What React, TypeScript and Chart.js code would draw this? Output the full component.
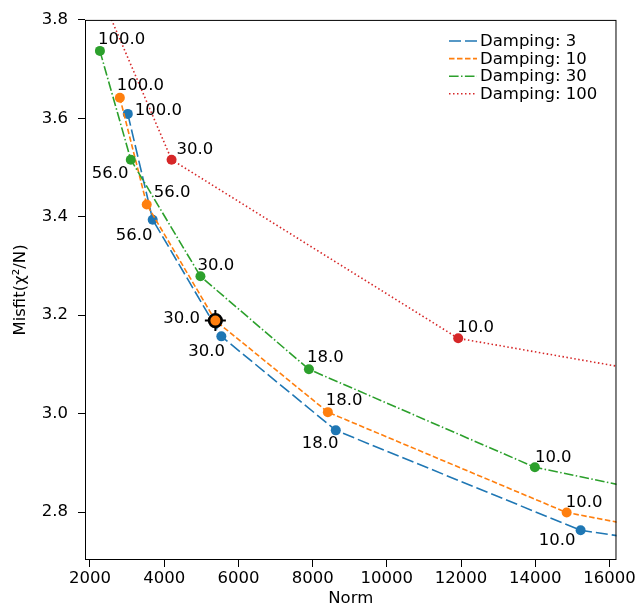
import React, { useEffect, useRef } from "react";
import { Chart, registerables } from "chart.js";

Chart.register(...registerables);

const FONT = "'DejaVu Sans', 'Liberation Sans', sans-serif";
const FS = 16.5;

const seriesNames = ["Damping: 3", "Damping: 10", "Damping: 30", "Damping: 100"];
const seriesColors = ["#1f77b4", "#ff7f0e", "#2ca02c", "#d62728"];

// Damping: 3
const d3Norm = [3019, 3690, 5540, 8624, 15222, 20000];
const d3Misfit = [3.609, 3.394, 3.157, 2.966, 2.763, 2.71];
const d3Labels = ["100.0", "56.0", "30.0", "18.0", "10.0", ""];

// Damping: 10
const d10Norm = [2805, 3529, 5379, 8410, 14846, 20000];
const d10Misfit = [3.642, 3.425, 3.189, 3.003, 2.799, 2.725];
const d10Labels = ["100.0", "56.0", "30.0", "18.0", "10.0", ""];

// Damping: 30
const d30Norm = [2268, 3100, 4977, 7900, 13989, 20000];
const d30Misfit = [3.737, 3.516, 3.279, 3.09, 2.891, 2.797];
const d30Labels = ["100.0", "56.0", "30.0", "18.0", "10.0", ""];

// Damping: 100
const d100Norm = [1730, 4199, 11923, 20000];
const d100Misfit = [3.95, 3.516, 3.153, 3.046];
const d100Labels = ["", "30.0", "10.0", ""];

// selected model (series index, point index)
const selectedSeries = 1;
const selectedPoint = 2;

const xTicks = [2000, 4000, 6000, 8000, 10000, 12000, 14000, 16000];
const yTicks = [2.8, 3.0, 3.2, 3.4, 3.6, 3.8];
const xMin = 1866;
const xMax = 16188;
const yMin = 2.7026;
const yMax = 3.8;

// styling: label offsets in px (text left, baseline) relative to point
const labelOffsets: number[][][] = [
  [[7, 1], [-37, 20], [-33, 20], [-34, 18], [-42, 15], [0, 0]],
  [[-3, -8], [7, -7], [-52, 2], [-2, -7], [-1, -6], [0, 0]],
  [[-2, -7], [-39, 18], [-3, -6], [-2, -7], [0, -5], [0, 0]],
  [[0, 0], [5, -6], [-1, -6], [0, 0]],
];
const dashes = [[12, 4], [5.5, 2.5], [9.6, 2.4, 1.5, 2.4], [1.5, 2.5]];

const norms = [d3Norm, d10Norm, d30Norm, d100Norm];
const misfits = [d3Misfit, d10Misfit, d30Misfit, d100Misfit];
const pointLabels = [d3Labels, d10Labels, d30Labels, d100Labels];

const overlayPlugin = {
  id: "overlay",
  afterDatasetsDraw(chart: any) {
    const { ctx, chartArea: a } = chart;
    ctx.save();
    ctx.beginPath();
    ctx.rect(a.left, a.top, a.right - a.left, a.bottom - a.top);
    ctx.clip();
    ctx.font = `${FS}px ${FONT}`;
    ctx.fillStyle = "#000";
    ctx.textAlign = "left";
    ctx.textBaseline = "alphabetic";
    pointLabels.forEach((labels, si) => {
      const meta = chart.getDatasetMeta(si);
      labels.forEach((t, i) => {
        if (!t) return;
        const p = meta.data[i];
        const [dx, dy] = labelOffsets[si][i];
        ctx.fillText(t, p.x + dx, p.y + dy);
      });
    });
    // selected model marker
    const sp = chart.getDatasetMeta(selectedSeries).data[selectedPoint];
    ctx.strokeStyle = "#000";
    ctx.lineWidth = 2;
    ctx.setLineDash([]);
    ctx.beginPath();
    ctx.moveTo(sp.x - 10.5, sp.y);
    ctx.lineTo(sp.x + 10.5, sp.y);
    ctx.moveTo(sp.x, sp.y - 10.5);
    ctx.lineTo(sp.x, sp.y + 10.5);
    ctx.stroke();
    ctx.beginPath();
    ctx.arc(sp.x, sp.y, 6.3, 0, Math.PI * 2);
    ctx.fillStyle = seriesColors[selectedSeries];
    ctx.fill();
    ctx.lineWidth = 2.6;
    ctx.stroke();
    ctx.restore();

    // frame
    ctx.save();
    ctx.strokeStyle = "#000";
    ctx.lineWidth = 1;
    ctx.strokeRect(a.left + 0.5, a.top + 0.5, a.right - a.left - 1, a.bottom - a.top - 1);

    // legend
    const lx0 = 449;
    const lx1 = 477;
    const ly0 = 41;
    const step = 17.6;
    seriesNames.forEach((name, i) => {
      const y = ly0 + i * step;
      ctx.strokeStyle = seriesColors[i];
      ctx.lineWidth = 1.6;
      ctx.setLineDash(dashes[i]);
      ctx.beginPath();
      ctx.moveTo(lx0, y);
      ctx.lineTo(lx1, y);
      ctx.stroke();
      ctx.setLineDash([]);
      ctx.fillStyle = "#000";
      ctx.font = `${FS}px ${FONT}`;
      ctx.textAlign = "left";
      ctx.textBaseline = "middle";
      ctx.fillText(name, 480, y + 1);
    });
    ctx.restore();
  },
};

export default function App() {
  const ref = useRef<HTMLCanvasElement | null>(null);
  useEffect(() => {
    if (!ref.current) return;
    const datasets = seriesNames.map((name, si) => ({
      label: name,
      data: norms[si].map((x, i) => ({ x, y: misfits[si][i] })),
      borderColor: seriesColors[si],
      backgroundColor: seriesColors[si],
      borderWidth: 1.6,
      borderDash: dashes[si],
      pointRadius: 5,
      pointBorderWidth: 0,
      pointBackgroundColor: seriesColors[si],
      pointHoverRadius: 5,
      tension: 0,
      order: 3 - si,
      clip: 0,
    }));
    const chart = new Chart(ref.current, {
      type: "line",
      data: { datasets },
      options: {
        responsive: false,
        animation: false,
        events: [],
        layout: { padding: { left: 0, top: 19, right: 19, bottom: 0 } },
        plugins: { legend: { display: false }, tooltip: { enabled: false } },
        scales: {
          x: {
            type: "linear",
            min: xMin,
            max: xMax,
            afterBuildTicks: (s: any) => {
              s.ticks = xTicks.map((v) => ({ value: v }));
            },
            afterFit: (s: any) => {
              s.height = 47;
            },
            ticks: {
              font: { family: FONT, size: FS },
              color: "#000",
              padding: 2,
              maxRotation: 0,
              autoSkip: false,
              callback: (v: any) => String(v),
            },
            grid: { drawOnChartArea: false, drawTicks: true, tickLength: 7, color: "#000", lineWidth: 1 },
            border: { display: false },
            title: {
              display: true,
              text: "Norm",
              color: "#000",
              font: { family: FONT, size: FS, lineHeight: 1 },
              padding: { top: 0, bottom: 0 },
            },
          },
          y: {
            type: "linear",
            min: yMin,
            max: yMax,
            afterBuildTicks: (s: any) => {
              s.ticks = yTicks.map((v) => ({ value: v }));
            },
            afterFit: (s: any) => {
              s.width = 85;
            },
            ticks: {
              font: { family: FONT, size: FS },
              color: "#000",
              padding: 10,
              callback: (v: any) => Number(v).toFixed(1),
            },
            grid: { drawOnChartArea: false, drawTicks: true, tickLength: 7, color: "#000", lineWidth: 1 },
            border: { display: false },
            title: {
              display: true,
              text: "Misfit(χ²/N)",
              color: "#000",
              font: { family: FONT, size: FS, lineHeight: 1 },
              padding: { top: 12, bottom: 0 },
            },
          },
        },
      },
      plugins: [overlayPlugin],
    } as any);
    return () => chart.destroy();
  }, []);
  return (
    <div style={{ position: "fixed", left: 0, top: 0, width: 638, height: 607, background: "#fff" }}>
      <canvas ref={ref} width={638} height={607} />
    </div>
  );
}
